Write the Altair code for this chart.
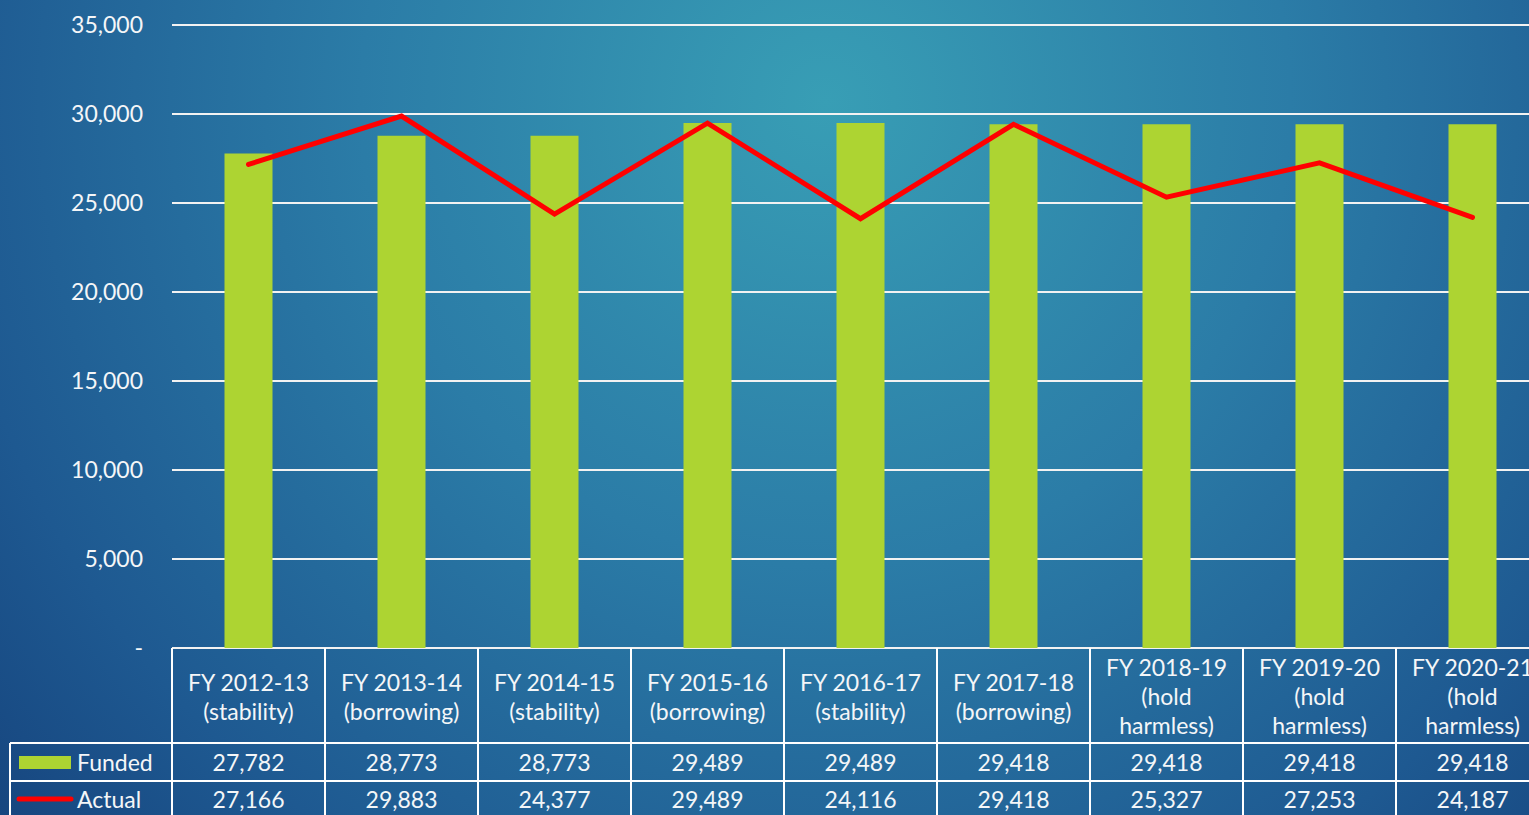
import altair as alt
import pandas as pd

# ---- data -------------------------------------------------------------
years = ["FY 2012-13", "FY 2013-14", "FY 2014-15", "FY 2015-16", "FY 2016-17",
         "FY 2017-18", "FY 2018-19", "FY 2019-20", "FY 2020-21"]
status = ["(stability)", "(borrowing)", "(stability)", "(borrowing)", "(stability)",
          "(borrowing)", "(hold\nharmless)", "(hold\nharmless)", "(hold\nharmless)"]
funded = [27782, 28773, 28773, 29489, 29489, 29418, 29418, 29418, 29418]
actual = [27166, 29883, 24377, 29489, 24116, 29418, 25327, 27253, 24187]
y_ticks = [0, 5000, 10000, 15000, 20000, 25000, 30000, 35000]
y_tick_labels = ["-", "5,000", "10,000", "15,000", "20,000", "25,000", "30,000", "35,000"]

W, H = 1529, 815
FONT = "Lato"
TXT = "#F4F6F8"
LINE_H = 29          # line height of the header cells
HEAD_MID = 698       # vertical middle of the header row

labels = [f"{y}\n{s}" for y, s in zip(years, status)]
df = pd.DataFrame({
    "pos": [i + 0.5 for i in range(len(years))],
    "label": labels,
    # first line of a multi-line label sits at y; centre the whole block
    "head_y": [HEAD_MID - (lab.count("\n")) * LINE_H / 2 for lab in labels],
    "funded": funded,
    "actual": actual,
})
ticks = pd.DataFrame({"tick": y_ticks, "tlabel": y_tick_labels})
edges = pd.DataFrame({"pos": list(range(len(years) + 1))})
one = pd.DataFrame({"k": [0]})

# shared scales: one category column is 153 px wide, the table starts at x=172
xs = alt.Scale(domain=[0, 9], range=[172, 172 + 153 * 9], padding=0)
ys = alt.Scale(domain=[0, 35000], range=[648, 25])
X = alt.X("pos:Q", scale=xs, axis=None)

# ---- background -------------------------------------------------------
bg = alt.Chart(one).mark_rect(
    color=alt.Gradient(
        gradient="radial",
        stops=[
            alt.GradientStop(color="#389EB5", offset=0),
            alt.GradientStop(color="#2B7CA7", offset=0.38),
            alt.GradientStop(color="#1E5991", offset=0.72),
            alt.GradientStop(color="#123A74", offset=1),
        ],
        x1=0.54, y1=0.3, r1=0, x2=0.54, y2=0.3, r2=0.8,
    )
).encode(x=alt.value(0), x2=alt.value(W), y=alt.value(0), y2=alt.value(H))

# ---- grid and y labels ------------------------------------------------
grid = alt.Chart(ticks).mark_rule(color="#F2F2F2", strokeWidth=2).encode(
    y=alt.Y("tick:Q", scale=ys, axis=None), x=alt.value(172), x2=alt.value(W)
)
ylab = alt.Chart(ticks).mark_text(
    align="right", baseline="middle", font=FONT, fontSize=23, color=TXT, dy=1
).encode(y=alt.Y("tick:Q", scale=ys, axis=None), x=alt.value(143), text="tlabel:N")

# ---- bars and line ----------------------------------------------------
bars = alt.Chart(df).mark_bar(size=48, color="#ADD432").encode(
    x=X, y=alt.Y("funded:Q", scale=ys, axis=None)
)
line = alt.Chart(df).mark_line(
    color="#FF0000", strokeWidth=5, strokeCap="round"
).encode(x=X, y=alt.Y("actual:Q", scale=ys, axis=None))

# ---- data table -------------------------------------------------------
vlines = alt.Chart(edges).mark_rule(color="white", strokeWidth=2).encode(
    x=X, y=alt.value(648), y2=alt.value(H)
)
hlines = alt.Chart(pd.DataFrame({"yy": [743, 781]})).mark_rule(
    color="white", strokeWidth=2
).encode(y=alt.Y("yy:Q", scale=None), x=alt.value(10), x2=alt.value(W))
left_border = alt.Chart(one).mark_rule(color="white", strokeWidth=2).encode(
    x=alt.value(10), y=alt.value(743), y2=alt.value(H)
)

header = alt.Chart(df).mark_text(
    align="center", baseline="middle", font=FONT, fontSize=23, color=TXT,
    lineBreak="\n", lineHeight=LINE_H,
).encode(x=X, y=alt.Y("head_y:Q", scale=None), text="label:N")

row_funded = alt.Chart(df).mark_text(
    align="center", baseline="middle", font=FONT, fontSize=23, color=TXT
).encode(x=X, y=alt.value(764), text=alt.Text("funded:Q", format=","))
row_actual = alt.Chart(df).mark_text(
    align="center", baseline="middle", font=FONT, fontSize=23, color=TXT
).encode(x=X, y=alt.value(801), text=alt.Text("actual:Q", format=","))

# legend keys inside the table
key_funded = alt.Chart(one).mark_rect(color="#ADD432").encode(
    x=alt.value(19), x2=alt.value(71), y=alt.value(756), y2=alt.value(769)
)
key_actual = alt.Chart(one).mark_rule(
    color="#FF0000", strokeWidth=5, strokeCap="round"
).encode(x=alt.value(19), x2=alt.value(71), y=alt.value(799))
key_text = alt.Chart(pd.DataFrame({"name": ["Funded", "Actual"], "yy": [764, 801]})).mark_text(
    align="left", baseline="middle", font=FONT, fontSize=23, color=TXT
).encode(x=alt.value(77), y=alt.Y("yy:Q", scale=None), text="name:N")

chart = alt.layer(
    bg, grid, ylab, bars, line, vlines, hlines, left_border,
    header, row_funded, row_actual, key_funded, key_actual, key_text,
).properties(
    width=W, height=H, padding=0, autosize="none", background="#1B4F87"
).configure_view(strokeWidth=0)

chart.save("out.html", embed_options={"renderer": "svg", "actions": False})
